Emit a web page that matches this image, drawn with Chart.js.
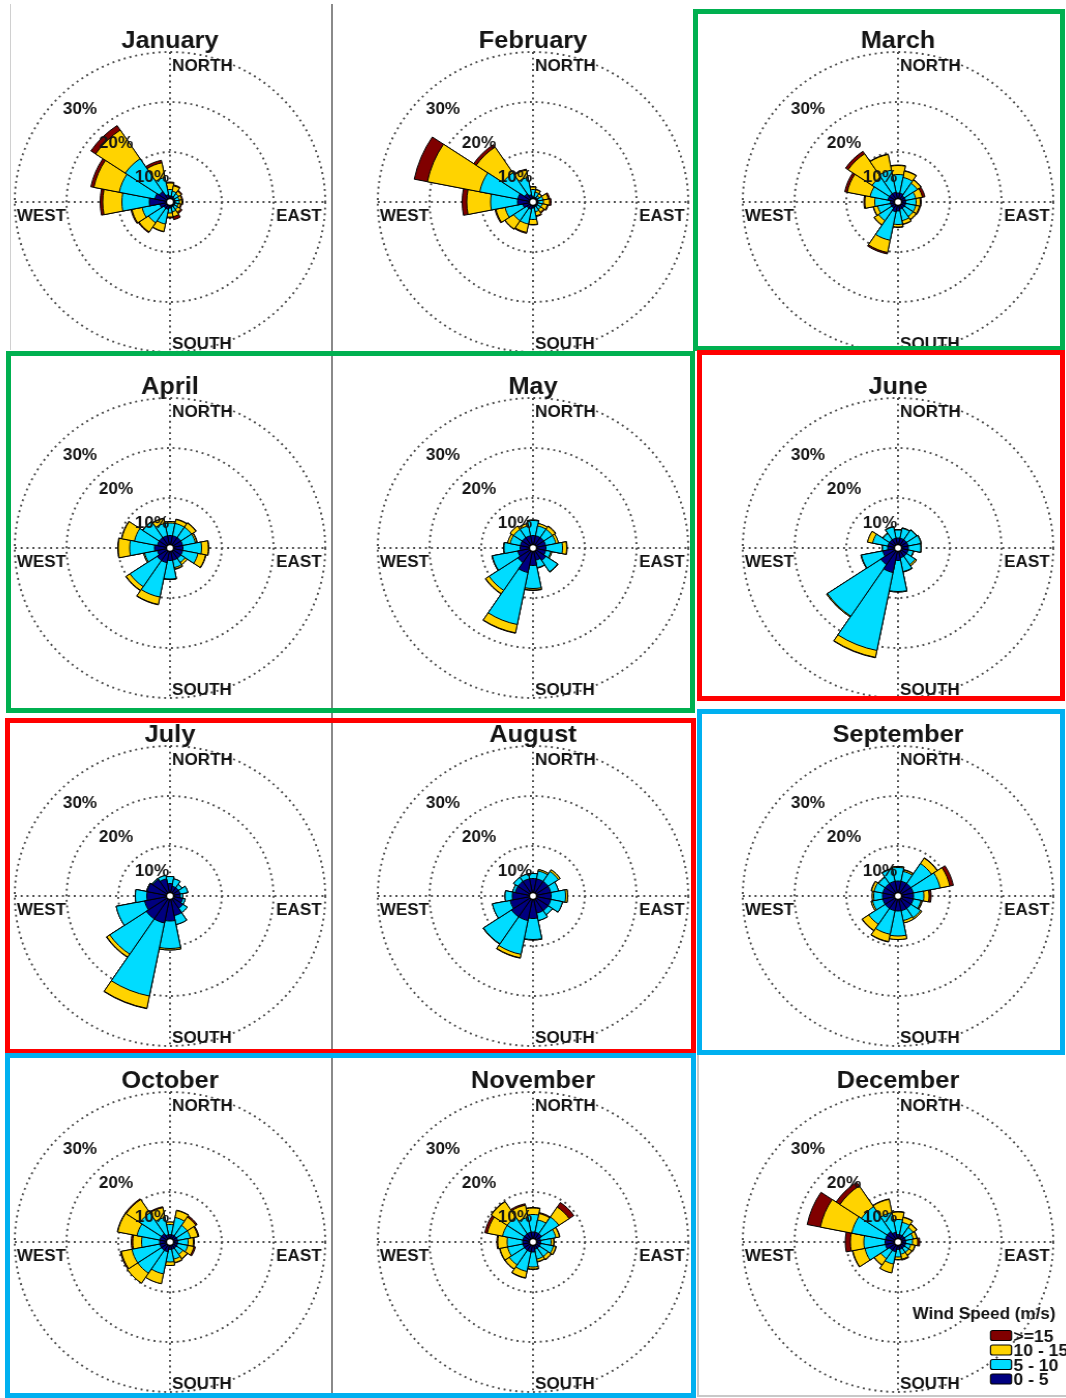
<!DOCTYPE html>
<html>
<head>
<meta charset="utf-8">
<title>Monthly wind roses</title>
<script src="https://cdn.jsdelivr.net/npm/chart.js@4.4.1/dist/chart.umd.min.js"></script>
<style>
  html, body { margin: 0; padding: 0; background: #fff; }
  #sheet { position: relative; width: 1066px; height: 1398px; overflow: hidden; background: #fff; }
  .panel { position: absolute; width: 360px; height: 352px; transform: scaleX(1.035); transform-origin: 180px 178px; }
  .rule { position: absolute; z-index: 2; }
  .frame { position: absolute; box-sizing: border-box; border-style: solid; border-width: 5px; z-index: 3; }
</style>
</head>
<body>
<div id="sheet"></div>
<script>
// 16 compass sectors, clockwise from north
const directions = ['N', 'NNE', 'NE', 'ENE', 'E', 'ESE', 'SE', 'SSE', 'S', 'SSW', 'SW', 'WSW', 'W', 'WNW', 'NW', 'NNW'];
const speedClasses = ['0 - 5', '5 - 10', '10 - 15', '>=15'];
const compassLabels = ['NORTH', 'EAST', 'SOUTH', 'WEST'];
const legendTitle = 'Wind Speed (m/s)';
const monthNames = ['January', 'February', 'March', 'April', 'May', 'June',
  'July', 'August', 'September', 'October', 'November', 'December'];

// Frequency of occurrence (%) per sector, cumulative by speed class:
// row 0 = below 5 m/s, row 1 = below 10, row 2 = below 15, row 3 = all speeds
const january = [
  [1.2, 1.2, 1.0, 1.0, 1.0, 1.0, 1.0, 1.0, 1.2, 1.5, 1.5, 2.0, 4.0, 3.0, 2.5, 1.5],
  [2.5, 2.2, 2.0, 1.8, 1.8, 1.6, 1.8, 2.0, 2.2, 4.5, 5.0, 5.5, 9.3, 10.0, 10.4, 5.0],
  [3.8, 3.3, 2.6, 2.3, 2.3, 2.1, 2.5, 3.0, 3.0, 6.0, 7.2, 7.5, 13.0, 15.0, 17.3, 8.0],
  [4.0, 3.5, 2.8, 2.5, 2.5, 2.3, 2.8, 3.6, 3.2, 6.1, 7.4, 7.7, 13.5, 15.6, 18.4, 8.5]
];
const february = [
  [1.0, 1.0, 1.0, 1.0, 1.0, 1.0, 1.0, 1.0, 1.2, 1.5, 1.5, 2.0, 3.0, 3.0, 2.0, 1.5],
  [2.5, 2.0, 1.5, 2.0, 2.0, 1.8, 1.8, 2.0, 3.5, 4.5, 4.5, 5.5, 8.2, 10.5, 7.0, 5.0],
  [3.0, 2.5, 2.0, 3.0, 3.2, 2.8, 2.5, 2.8, 4.5, 6.2, 6.5, 7.3, 12.8, 20.8, 13.2, 6.5],
  [3.1, 2.6, 2.1, 3.3, 3.5, 3.0, 2.7, 3.0, 4.6, 6.4, 6.6, 7.5, 13.7, 23.4, 13.8, 6.7]
];
const march = [
  [1.8, 1.8, 1.5, 1.5, 1.5, 1.5, 1.5, 1.5, 1.8, 2.0, 1.5, 1.5, 1.5, 2.0, 2.0, 2.0],
  [5.5, 5.0, 4.5, 3.5, 3.5, 3.5, 3.5, 3.8, 4.5, 7.8, 4.5, 4.0, 4.5, 5.5, 6.0, 6.5],
  [7.3, 6.3, 5.3, 4.8, 4.3, 4.2, 4.2, 4.5, 5.0, 10.3, 5.5, 4.8, 6.4, 10.0, 11.6, 9.7],
  [7.4, 6.4, 5.4, 5.3, 4.5, 4.4, 4.3, 4.6, 5.1, 10.6, 5.6, 4.9, 6.6, 10.5, 12.2, 9.8]
];
const april = [
  [2.5, 2.5, 2.5, 2.5, 2.5, 2.5, 2.5, 2.5, 2.5, 3.0, 3.0, 2.5, 3.0, 2.5, 2.5, 2.5],
  [5.0, 5.0, 5.0, 5.0, 6.1, 5.5, 3.5, 4.0, 6.2, 10.0, 9.3, 5.0, 7.8, 7.0, 6.3, 5.0],
  [5.3, 5.8, 6.0, 5.3, 7.4, 7.0, 4.0, 4.3, 6.3, 11.5, 10.2, 5.2, 10.0, 9.5, 6.4, 6.0],
  [5.3, 5.9, 6.1, 5.4, 7.5, 7.1, 4.0, 4.4, 6.3, 11.6, 10.3, 5.2, 10.1, 9.6, 6.4, 6.1]
];
const may = [
  [2.5, 2.5, 2.5, 2.5, 2.5, 2.5, 3.0, 2.5, 3.5, 5.0, 3.5, 3.0, 2.5, 2.5, 2.5, 2.5],
  [5.5, 4.5, 4.5, 4.5, 5.7, 3.5, 5.7, 4.0, 8.1, 15.6, 10.2, 8.0, 5.6, 4.5, 4.5, 4.5],
  [5.6, 5.0, 5.2, 5.0, 6.5, 3.7, 5.8, 4.1, 8.4, 17.3, 11.0, 8.1, 5.7, 5.0, 5.3, 5.0],
  [5.6, 5.0, 5.3, 5.0, 6.6, 3.7, 5.8, 4.1, 8.5, 17.4, 11.1, 8.1, 5.7, 5.0, 5.3, 5.0]
];
const june = [
  [2.0, 2.0, 2.0, 2.0, 2.0, 2.0, 2.0, 2.0, 2.5, 5.0, 4.0, 3.0, 2.0, 2.0, 2.0, 2.0],
  [3.6, 4.0, 4.3, 4.5, 4.4, 3.0, 4.0, 4.8, 8.7, 20.9, 16.4, 7.2, 3.0, 5.0, 3.5, 4.3],
  [3.7, 4.1, 4.4, 4.6, 4.5, 3.1, 4.3, 4.9, 8.8, 22.3, 16.6, 7.3, 3.1, 6.0, 3.6, 4.4],
  [3.7, 4.1, 4.4, 4.6, 4.5, 3.1, 4.3, 4.9, 8.8, 22.4, 16.6, 7.3, 3.1, 6.0, 3.6, 4.4]
];
const july = [
  [2.5, 2.0, 2.0, 2.0, 2.0, 2.5, 3.0, 4.0, 5.0, 5.5, 5.5, 5.0, 4.5, 4.5, 4.0, 3.5],
  [3.9, 3.5, 2.8, 3.5, 2.5, 3.0, 4.0, 5.8, 10.5, 20.4, 14.0, 10.6, 6.7, 4.6, 4.2, 4.2],
  [3.9, 3.5, 2.8, 3.5, 2.5, 3.0, 4.0, 5.8, 10.8, 22.9, 14.7, 10.6, 6.7, 4.6, 4.2, 4.2],
  [3.9, 3.5, 2.8, 3.5, 2.5, 3.0, 4.0, 5.8, 10.8, 23.0, 14.8, 10.6, 6.7, 4.6, 4.2, 4.2]
];
const august = [
  [3.5, 3.5, 3.5, 3.5, 3.5, 3.5, 3.5, 3.5, 4.5, 5.0, 5.0, 4.5, 4.0, 3.5, 3.5, 3.5],
  [4.5, 5.1, 5.9, 5.0, 6.3, 5.8, 4.5, 5.0, 8.7, 11.9, 11.5, 8.0, 5.4, 4.0, 4.5, 4.5],
  [4.5, 5.4, 6.3, 5.0, 6.7, 5.8, 4.5, 5.0, 8.8, 12.6, 11.6, 8.0, 5.4, 4.0, 4.5, 4.5],
  [4.5, 5.4, 6.3, 5.0, 6.7, 5.8, 4.5, 5.0, 8.8, 12.7, 11.6, 8.0, 5.4, 4.0, 4.5, 4.5]
];
const september = [
  [3.0, 3.0, 3.0, 3.0, 3.0, 3.0, 3.0, 3.0, 3.0, 3.0, 3.0, 3.0, 3.0, 3.0, 3.0, 3.0],
  [5.7, 5.0, 7.8, 8.3, 5.0, 4.5, 5.2, 5.0, 8.0, 7.8, 6.8, 5.0, 4.7, 4.7, 4.5, 5.5],
  [5.9, 5.3, 9.1, 10.2, 6.0, 4.7, 5.5, 5.5, 8.7, 9.3, 8.3, 5.3, 5.0, 5.2, 4.6, 5.6],
  [5.9, 5.4, 9.2, 10.9, 6.4, 4.8, 5.5, 5.5, 8.7, 9.4, 8.4, 5.3, 5.0, 5.3, 4.6, 5.6]
];
const october = [
  [1.5, 1.5, 1.5, 1.5, 1.5, 1.5, 1.5, 1.5, 1.5, 2.0, 2.0, 2.0, 2.0, 2.0, 2.0, 1.5],
  [3.5, 5.0, 4.0, 4.0, 3.5, 3.5, 3.0, 3.5, 4.0, 6.5, 7.5, 7.5, 5.5, 6.5, 7.0, 5.0],
  [4.0, 6.4, 6.0, 5.5, 4.5, 4.7, 4.0, 4.2, 4.7, 8.5, 9.9, 9.6, 7.2, 10.3, 10.2, 7.0],
  [4.0, 6.5, 6.3, 5.7, 4.7, 5.0, 4.1, 4.3, 4.7, 8.5, 9.9, 9.8, 7.5, 10.4, 10.4, 7.2]
];
const november = [
  [2.0, 2.0, 2.0, 1.5, 1.5, 1.5, 1.5, 1.5, 2.0, 2.0, 2.0, 2.0, 2.0, 2.0, 2.0, 2.0],
  [5.5, 4.5, 6.0, 4.5, 3.5, 4.0, 3.5, 3.5, 5.0, 6.0, 5.5, 5.0, 5.0, 6.0, 6.0, 5.0],
  [6.8, 5.8, 8.4, 5.2, 4.0, 4.5, 4.2, 4.0, 5.4, 7.3, 6.5, 6.5, 6.8, 9.0, 9.7, 7.5],
  [6.9, 6.0, 9.5, 5.3, 4.1, 4.6, 4.3, 4.1, 5.5, 7.4, 6.6, 6.6, 7.0, 9.5, 9.8, 7.8]
];
const december = [
  [1.5, 1.5, 1.5, 1.5, 1.5, 1.5, 1.5, 1.5, 1.5, 2.0, 2.0, 2.5, 2.5, 2.5, 2.5, 2.0],
  [4.5, 4.0, 3.5, 3.0, 2.8, 2.5, 2.5, 2.5, 3.0, 4.5, 4.0, 6.5, 6.6, 9.1, 8.5, 6.0],
  [6.0, 5.0, 4.3, 3.7, 3.8, 3.3, 3.2, 3.5, 3.5, 6.3, 5.5, 8.9, 9.2, 15.3, 13.5, 8.7],
  [6.1, 5.1, 4.4, 3.8, 4.2, 3.4, 3.3, 3.7, 3.6, 6.3, 5.6, 9.0, 10.2, 17.9, 14.4, 8.8]
];
const monthlyRoses = [january, february, march, april, may, june,
  july, august, september, october, november, december];

// ---- styling ----
const classColors = ['#000080', '#00DCFF', '#FFD300', '#800000'];
const GRID_COLOR = '#4a4a4a';
const TEXT_COLOR = '#141414';
const FONT = '"Liberation Sans", Arial, Helvetica, sans-serif';
const COL_X = [170, 533, 897.5];
const ROW_Y = [201.5, 548, 895.5, 1242];
const DOT_PATTERN = [1.9, 3.8];

// Compass cross, hub, ring labels, compass words, titles and the speed legend
const roseDecor = {
  id: 'roseDecor',
  beforeDatasetsDraw(chart) {
    const r = chart.scales.r, ctx = chart.ctx;
    const cx = r.xCenter, cy = r.yCenter, R = r.drawingArea;
    ctx.save();
    ctx.strokeStyle = GRID_COLOR;
    ctx.lineWidth = 1.9;
    ctx.setLineDash(DOT_PATTERN);
    ctx.beginPath();
    ctx.moveTo(cx - R, cy); ctx.lineTo(cx + R, cy);
    ctx.moveTo(cx, cy - R); ctx.lineTo(cx, cy + R);
    ctx.stroke();
    ctx.restore();
  },
  afterDatasetsDraw(chart, args, opts) {
    const r = chart.scales.r, ctx = chart.ctx;
    const cx = r.xCenter, cy = r.yCenter;
    ctx.save();
    ctx.setLineDash([]);
    // hub
    ctx.beginPath();
    ctx.arc(cx, cy, 3.5, 0, Math.PI * 2);
    ctx.fillStyle = '#fff';
    ctx.fill();
    ctx.lineWidth = 1.4;
    ctx.strokeStyle = '#000';
    ctx.stroke();

    ctx.fillStyle = TEXT_COLOR;
    // ring labels along the north-west diagonal
    ctx.font = 'bold 16.5px ' + FONT;
    ctx.textAlign = 'center';
    ctx.textBaseline = 'middle';
    r.ticks.forEach(t => {
      if (t.value <= 0) return;
      const k = t.value / 10 - 1;
      ctx.fillText(t.value + '%', cx - (17.4 + 34.8 * k), cy - (25 + 34 * k));
    });

    // compass words
    ctx.textBaseline = 'alphabetic';
    ctx.font = 'bold 16.5px ' + FONT;
    ctx.textAlign = 'left';
    ctx.fillText(compassLabels[0], cx + 2, cy - 131);
    ctx.fillText(compassLabels[2], cx + 2, cy + 147);
    ctx.fillText(compassLabels[3], cx - 148, cy + 18.5);
    ctx.textAlign = 'right';
    ctx.fillText(compassLabels[1], cx + 146.5, cy + 18.5);

    // month title
    ctx.font = 'bold 24.5px ' + FONT;
    ctx.textAlign = 'center';
    ctx.fillText(opts.title, cx, cy - 154);

    // speed legend
    if (opts.legend) {
      ctx.font = 'bold 16.5px ' + FONT;
      ctx.textAlign = 'left';
      ctx.fillText(legendTitle, cx + 14, cy + 76.5);
      const ds = chart.data.datasets;
      for (let j = 0; j < ds.length; j++) {
        const d = ds[ds.length - 1 - j];
        const top = cy + 88.5 + j * 14.5;
        ctx.beginPath();
        ctx.roundRect(cx + 89.4, top, 20.3, 10, 2);
        ctx.fillStyle = d.backgroundColor;
        ctx.fill();
        ctx.lineWidth = 1.2;
        ctx.strokeStyle = '#000';
        ctx.stroke();
        ctx.fillStyle = TEXT_COLOR;
        ctx.font = 'bold 17px ' + FONT;
        ctx.fillText(d.label, cx + 111.5, top + 11);
      }
    }
    ctx.restore();
  }
};

const sheet = document.getElementById('sheet');

monthlyRoses.forEach((rose, i) => {
  const cx = COL_X[i % 3], cy = ROW_Y[Math.floor(i / 3)];
  const panel = document.createElement('div');
  panel.className = 'panel';
  panel.style.left = (cx - 180) + 'px';
  panel.style.top = (cy - 178) + 'px';
  const canvas = document.createElement('canvas');
  canvas.width = 360;
  canvas.height = 352;
  panel.appendChild(canvas);
  sheet.appendChild(panel);

  new Chart(canvas, {
    type: 'polarArea',
    data: {
      labels: directions,
      datasets: speedClasses.map((cls, k) => ({
        label: cls,
        data: rose[k],
        backgroundColor: classColors[k],
        borderColor: '#000',
        borderWidth: 1
      }))
    },
    options: {
      responsive: false,
      animation: false,
      events: [],
      layout: { padding: { left: 30, right: 30, top: 28, bottom: 24 } },
      scales: {
        r: {
          min: 0,
          max: 30,
          startAngle: -11.25,
          ticks: { display: false, stepSize: 10 },
          grid: { circular: true, color: GRID_COLOR, lineWidth: 1.9 },
          border: { dash: DOT_PATTERN },
          angleLines: { display: false },
          pointLabels: { display: false }
        }
      },
      plugins: {
        legend: { display: false },
        tooltip: { enabled: false },
        roseDecor: { title: monthNames[i], legend: i === 11 }
      }
    },
    plugins: [roseDecor]
  });
});

// panel separators and highlight frames
function addRule(left, top, width, height, color) {
  const d = document.createElement('div');
  d.className = 'rule';
  Object.assign(d.style, { left: left + 'px', top: top + 'px', width: width + 'px', height: height + 'px', background: color });
  sheet.appendChild(d);
}
function addFrame(left, top, width, height, color) {
  const d = document.createElement('div');
  d.className = 'frame';
  Object.assign(d.style, { left: left + 'px', top: top + 'px', width: width + 'px', height: height + 'px', borderColor: color });
  sheet.appendChild(d);
}
addRule(331, 4, 2, 1394, '#8a8a8a');
addRule(10, 4, 1, 346, '#d0d0d0');
addRule(697, 1055, 1.5, 341, '#c8c8c8');
addRule(697, 1395, 369, 1.5, '#c8c8c8');

const GREEN = '#00B050', RED = '#FF0000', BLUE = '#00B0F0';
addFrame(693, 9, 372, 342, GREEN);
addFrame(6, 351, 689, 362, GREEN);
addFrame(697, 350, 368, 351, RED);
addFrame(5, 718, 691, 336, RED);
addFrame(697, 709, 368, 346, BLUE);
addFrame(5, 1053, 691, 345, BLUE);
</script>
</body>
</html>
